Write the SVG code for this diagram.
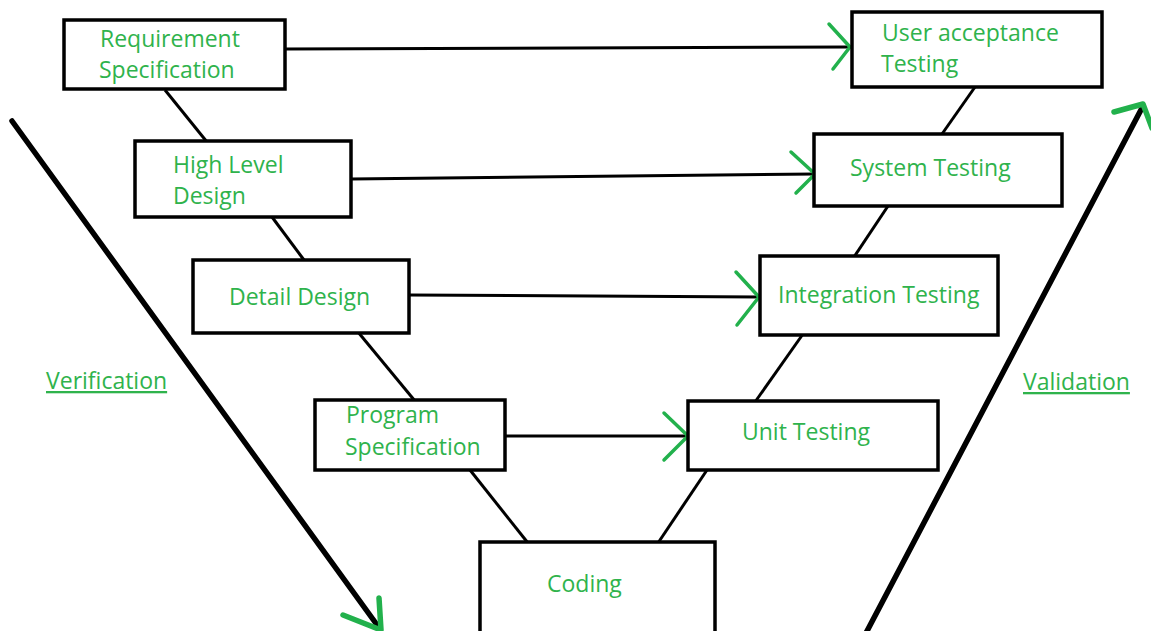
<svg xmlns="http://www.w3.org/2000/svg" width="1151" height="631" viewBox="0 0 1151 631">
<style>
.box{fill:#fff;stroke:#000;stroke-width:3.5}
.lbl{font-family:"Open Sans","Liberation Sans",sans-serif;font-size:23px;fill:#2fb34c}
.ln{stroke:#000;stroke-width:3;fill:none}
.big{stroke:#000;stroke-width:5.5;fill:none;stroke-linecap:round}
.ah{stroke:#22b14c;stroke-width:3.5;fill:none;stroke-linecap:round;stroke-linejoin:round}
.ahb{stroke:#22b14c;stroke-width:5.5;fill:none;stroke-linecap:round;stroke-linejoin:round}
</style>
<rect width="1151" height="631" fill="#fff"/>
<g id="connectors">
<line class="ln" x1="165" y1="90" x2="207" y2="142"/>
<line class="ln" x1="272" y1="217" x2="304" y2="260"/>
<line class="ln" x1="358" y1="332" x2="415" y2="401"/>
<line class="ln" x1="470" y1="470" x2="528" y2="543"/>
<line class="ln" x1="975" y1="87" x2="942" y2="134"/>
<line class="ln" x1="888" y1="206" x2="854" y2="257"/>
<line class="ln" x1="803" y1="334" x2="755" y2="402"/>
<line class="ln" x1="707" y1="470" x2="658" y2="543"/>
<line class="ln" x1="285" y1="49" x2="850" y2="47"/>
<polyline class="ah" points="829,24 850,47 833,69"/>
<line class="ln" x1="351" y1="179" x2="815" y2="174"/>
<polyline class="ah" points="791,152 815,174 796,193"/>
<line class="ln" x1="409" y1="295" x2="759" y2="297"/>
<polyline class="ah" points="736,272 759,297 737,325"/>
<line class="ln" x1="505" y1="436" x2="688" y2="436"/>
<polyline class="ah" points="664,413 688,436 664,460"/>
<line class="big" x1="12" y1="121" x2="380" y2="629"/>
<polyline class="ahb" points="343,615 381,630 379,598"/>
<line class="big" x1="866" y1="633" x2="1143" y2="106"/>
<polyline class="ahb" points="1114,112 1143,104 1152,128"/>
</g>
<g id="req-spec">
<rect class="box" x="64" y="20" width="221" height="69"/>
<text class="lbl" x="100" y="47">Requirement</text>
<text class="lbl" x="99" y="78">Specification</text>
</g>
<g id="high-level-design">
<rect class="box" x="135" y="141" width="216" height="76"/>
<text class="lbl" x="173" y="173">High Level</text>
<text class="lbl" x="173" y="204">Design</text>
</g>
<g id="detail-design">
<rect class="box" x="193" y="260" width="216" height="73"/>
<text class="lbl" x="229" y="305">Detail Design</text>
</g>
<g id="program-spec">
<rect class="box" x="315" y="400" width="190" height="70"/>
<text class="lbl" x="346" y="423">Program</text>
<text class="lbl" x="345" y="455">Specification</text>
</g>
<g id="coding">
<rect class="box" x="480" y="542" width="235" height="100"/>
<text class="lbl" x="547" y="592">Coding</text>
</g>
<g id="unit-testing">
<rect class="box" x="688" y="401" width="250" height="69"/>
<text class="lbl" x="742" y="440">Unit Testing</text>
</g>
<g id="integration-testing">
<rect class="box" x="760" y="256" width="238" height="79"/>
<text class="lbl" x="778" y="303">Integration Testing</text>
</g>
<g id="system-testing">
<rect class="box" x="814" y="134" width="248" height="72"/>
<text class="lbl" x="850" y="176">System Testing</text>
</g>
<g id="uat">
<rect class="box" x="852" y="12" width="250" height="75"/>
<text class="lbl" x="882" y="41">User acceptance</text>
<text class="lbl" x="881" y="72">Testing</text>
</g>
<g id="verification">
<text class="lbl" x="46" y="389" text-decoration="underline">Verification</text>
</g>
<g id="validation">
<text class="lbl" x="1023" y="390" text-decoration="underline">Validation</text>
</g>
</svg>
